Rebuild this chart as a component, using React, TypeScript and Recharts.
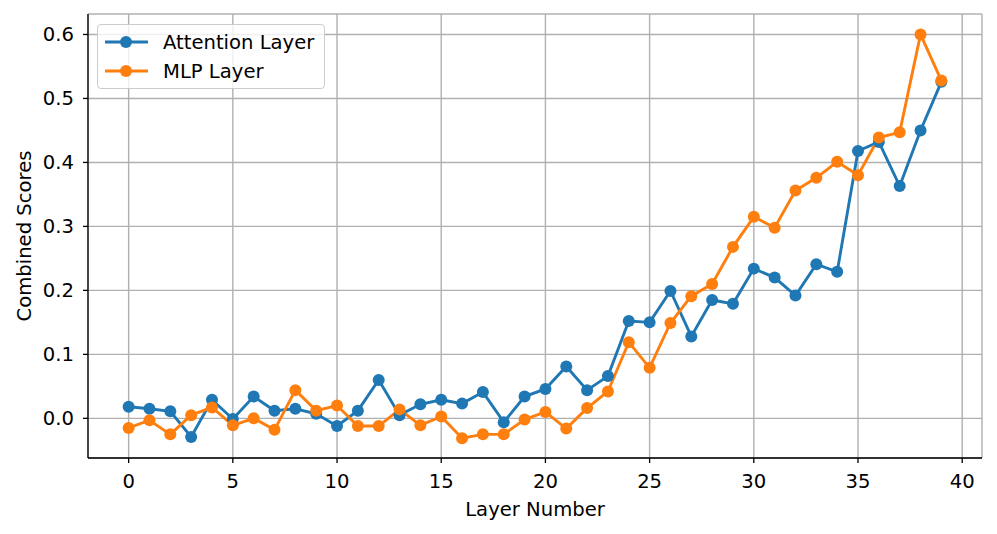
import React from "react";
import {
  LineChart,
  Line,
  XAxis,
  YAxis,
  CartesianGrid,
} from "recharts";

const layers = [
  0, 1, 2, 3, 4, 5, 6, 7, 8, 9, 10, 11, 12, 13, 14, 15, 16, 17, 18, 19, 20,
  21, 22, 23, 24, 25, 26, 27, 28, 29, 30, 31, 32, 33, 34, 35, 36, 37, 38, 39,
];

const attention = [
  0.018, 0.015, 0.011, -0.029, 0.029, -0.001, 0.034, 0.012, 0.015, 0.007,
  -0.012, 0.012, 0.06, 0.005, 0.022, 0.029, 0.023, 0.041, -0.006, 0.034,
  0.046, 0.081, 0.044, 0.066, 0.152, 0.15, 0.199, 0.128, 0.185, 0.179, 0.234,
  0.22, 0.192, 0.241, 0.229, 0.418, 0.432, 0.363, 0.45, 0.526,
];

const mlp = [
  -0.015, -0.003, -0.025, 0.005, 0.017, -0.011, 0.0, -0.018, 0.044, 0.012,
  0.02, -0.012, -0.012, 0.014, -0.011, 0.003, -0.031, -0.025, -0.025, -0.002,
  0.01, -0.016, 0.016, 0.042, 0.119, 0.079, 0.149, 0.191, 0.21, 0.268, 0.315,
  0.298, 0.356, 0.376, 0.401, 0.38, 0.439, 0.447, 0.6, 0.528,
];

const xTicks = [0, 5, 10, 15, 20, 25, 30, 35, 40];
const yTicks = [0, 0.1, 0.2, 0.3, 0.4, 0.5, 0.6];

const series = [
  { key: "attention", name: "Attention Layer", color: "#1f77b4" },
  { key: "mlp", name: "MLP Layer", color: "#ff7f0e" },
];

const data = layers.map((layer, i) => ({
  layer,
  attention: attention[i],
  mlp: mlp[i],
}));

const FONT = "'DejaVu Sans', sans-serif";
const FS = 19.6;
const xDomain: [number, number] = [-1.95, 40.95];
const yDomain: [number, number] = [-0.062, 0.632];

function LegendBox() {
  return (
    <div
      style={{
        position: "absolute",
        left: 97,
        top: 24,
        width: 226,
        height: 63,
        border: "1.4px solid #cccccc",
        borderRadius: 4,
        background: "rgba(255,255,255,0.8)",
        fontFamily: FONT,
        fontSize: FS,
      }}
    >
      {series.map((s, i) => (
        <div
          key={s.key}
          style={{
            position: "absolute",
            left: 6,
            top: 4 + i * 29,
            height: 26,
            display: "flex",
            alignItems: "center",
          }}
        >
          <svg width={44} height={26}>
            <line x1={1} y1={13} x2={44} y2={13} stroke={s.color} strokeWidth={2.9} />
            <circle cx={22} cy={13} r={6} fill={s.color} />
          </svg>
          <span style={{ marginLeft: 15, color: "#000", whiteSpace: "nowrap" }}>
            {s.name}
          </span>
        </div>
      ))}
    </div>
  );
}

export default function App() {
  const tickStyle = { fill: "#000", fontSize: FS, fontFamily: FONT };
  return (
    <div
      style={{
        position: "absolute",
        left: 0,
        top: 0,
        width: 997,
        height: 534,
        background: "#fff",
      }}
    >
      <LineChart
        width={997}
        height={534}
        data={data}
        margin={{ top: 14, right: 15, bottom: 0, left: 0 }}
      >
        <CartesianGrid stroke="#b0b0b0" strokeWidth={1.4} />
        <XAxis
          dataKey="layer"
          type="number"
          domain={xDomain}
          ticks={xTicks}
          allowDataOverflow
          height={76}
          tickSize={5}
          tickMargin={11}
          tick={tickStyle}
          tickLine={{ stroke: "#000", strokeWidth: 1.3 }}
          axisLine={{ stroke: "#000", strokeWidth: 1.3 }}
          label={{
            value: "Layer Number",
            position: "insideBottom",
            offset: 18,
            style: { fill: "#000", fontSize: FS, fontFamily: FONT },
          }}
        />
        <XAxis
          xAxisId="top"
          orientation="top"
          type="number"
          domain={xDomain}
          allowDataOverflow
          height={0}
          tick={false}
          tickLine={false}
          axisLine={{ stroke: "#000", strokeWidth: 1.3 }}
        />
        <YAxis
          type="number"
          domain={yDomain}
          ticks={yTicks}
          allowDataOverflow
          width={88}
          tickSize={5}
          tickMargin={9}
          tick={tickStyle}
          tickFormatter={(v: number) => v.toFixed(1)}
          tickLine={{ stroke: "#000", strokeWidth: 1.3 }}
          axisLine={{ stroke: "#000", strokeWidth: 1.3 }}
          label={{
            value: "Combined Scores",
            angle: -90,
            position: "insideLeft",
            offset: 24,
            style: {
              fill: "#000",
              fontSize: FS,
              fontFamily: FONT,
              textAnchor: "middle",
            },
          }}
        />
        <YAxis
          yAxisId="right"
          orientation="right"
          type="number"
          domain={yDomain}
          allowDataOverflow
          width={0}
          tick={false}
          tickLine={false}
          axisLine={{ stroke: "#000", strokeWidth: 1.3 }}
        />
        {series.map((s) => (
          <Line
            key={s.key}
            dataKey={s.key}
            name={s.name}
            type="linear"
            stroke={s.color}
            strokeWidth={2.9}
            dot={{ r: 6, fill: s.color, stroke: "none" }}
            activeDot={false}
            isAnimationActive={false}
          />
        ))}
      </LineChart>
      <LegendBox />
    </div>
  );
}
